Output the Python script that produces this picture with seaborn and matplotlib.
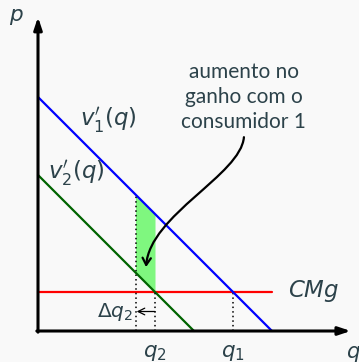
import matplotlib
matplotlib.use("Agg")
import matplotlib.pyplot as plt
import seaborn as sns
from matplotlib.path import Path
from matplotlib.patches import FancyArrowPatch

# marginal valuations and marginal cost (straight lines, endpoints)
q_v1 = [0, 6]
p_v1 = [6, 0]
q_v2 = [0, 4]
p_v2 = [4, 0]
q_cmg = [0, 6]
p_cmg = [1, 1]

# quantities
q1 = 5
q2 = 3
q2_new = 2.5

# green area: gain with consumer 1
q_area = [2.5, 3]
area_low = [1.5, 1]
area_high = [3.5, 3]

note_lines = ["aumento no", "ganho com o", "consumidor 1"]

sns.set_theme(style="white")
plt.rcParams["mathtext.fontset"] = "dejavusans"
plt.rcParams["font.family"] = ["Lato", "DejaVu Sans"]

bg = "#f9f9f9"
txt = "#2c424a"

fig = plt.figure(figsize=(3.59, 3.62), dpi=100, facecolor=bg)
ax = fig.add_axes([0, 0, 1, 1])
ax.set_facecolor(bg)
ax.set_xlim(-38 / 39, 321 / 39)
ax.set_ylim(-31 / 39, 331 / 39)
ax.axis("off")

ax.fill_between(q_area, area_low, area_high, color="#7ff77f", lw=0, zorder=1)

sns.lineplot(x=q_v1, y=p_v1, color="#0000ff", lw=1.6, ax=ax, zorder=3)
sns.lineplot(x=q_v2, y=p_v2, color="#006400", lw=1.6, ax=ax, zorder=3)
sns.lineplot(x=q_cmg, y=p_cmg, color="#ff0000", lw=1.6, ax=ax, zorder=2)

# dotted guides
ax.plot([q2_new, q2_new], [0, p_v1[0] - q2_new], color="black", ls=(0, (1, 2)), lw=1.1, zorder=2)
ax.plot([q2, q2], [0, p_cmg[0]], color="black", ls=(0, (1, 2)), lw=1.1, zorder=4)
ax.plot([q1, q1], [0, p_cmg[0]], color="black", ls=(0, (1, 2)), lw=1.1, zorder=2)

# axes with arrows
ax.annotate("", xy=(8.02, 0), xytext=(-0.03, 0),
            arrowprops=dict(arrowstyle="-|>,head_length=0.6,head_width=0.2", color="black", lw=2.2,
                            shrinkA=0, shrinkB=0), zorder=5)
ax.annotate("", xy=(0, 8.05), xytext=(0, -0.03),
            arrowprops=dict(arrowstyle="-|>,head_length=0.6,head_width=0.2", color="black", lw=2.2,
                            shrinkA=0, shrinkB=0), zorder=5)

# delta q2 arrow
ax.annotate("", xy=(q2_new + 0.03, 0.5), xytext=(q2, 0.5),
            arrowprops=dict(arrowstyle="->", color="black", lw=0.9, shrinkA=0, shrinkB=0))
ax.text(q2_new - 0.07, 0.49, r"$\Delta q_2$", ha="right", va="center", fontsize=14.5, color=txt)

# labels
ax.text(-0.56, 8.05, r"$p$", ha="center", va="center", fontsize=15.5, color=txt)
ax.text(8.1, -0.58, r"$q$", ha="center", va="center", fontsize=15.5, color=txt)
ax.text(q2, -0.56, r"$q_2$", ha="center", va="center", fontsize=15.5, color=txt)
ax.text(q1, -0.56, r"$q_1$", ha="center", va="center", fontsize=15.5, color=txt)
ax.text(6.4, 1.03, r"$CMg$", ha="left", va="center", fontsize=16.5, color=txt)
ax.text(1.8, 5.4, r"$v_1'(q)$", ha="center", va="center", fontsize=16.5, color=txt)
ax.text(0.98, 4.05, r"$v_2'(q)$", ha="center", va="center", fontsize=16.5, color=txt)

ax.text(5.28, 6.0, "\n".join(note_lines), ha="center", va="center", fontsize=15,
        color=txt, linespacing=1.3)

# curved pointer from the note to the green area
curve = Path([(5.28, 4.97), (5.2, 4.0), (2.87, 2.98), (2.77, 1.64)],
             [Path.MOVETO, Path.CURVE4, Path.CURVE4, Path.CURVE4])
ax.add_patch(FancyArrowPatch(path=curve, arrowstyle="->,head_length=5,head_width=3",
                             color="black", lw=1.6, zorder=6))

fig.savefig("out.png", dpi=100, facecolor=bg)
